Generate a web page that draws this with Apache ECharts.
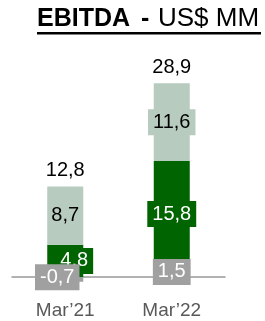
<!DOCTYPE html>
<html><head><meta charset="utf-8">
<script src="https://cdn.jsdelivr.net/npm/echarts@6/dist/echarts.min.js"></script>
<style>html,body{margin:0;padding:0;background:#fff}#c{width:265px;height:321px}</style>
</head><body><div id="c"></div>
<script>
var categories = ['Mar\u201921', 'Mar\u201922'];
var otherValues = [-0.7, 1.5];
var coreValues = [4.8, 15.8];
var addValues = [8.7, 11.6];
var totals = [12.8, 28.9];

var fmt = function (v) { return v.toFixed(1).replace('.', ','); };
var FONT = 'Liberation Sans, Arial, sans-serif';
var cGray = '#a0a0a0', cDark = '#006400', cLight = '#b7cbbf';

function lab(colors, textColor, offsets) {
  return function (i) {
    return {
      show: true, position: 'inside', color: textColor, fontSize: 20, fontFamily: FONT,
      backgroundColor: colors[i], padding: [3, 5], offset: offsets ? offsets[i] : [0, 0],
      formatter: function (p) { return fmt(p.value); }
    };
  };
}
function mk(values, labelFn) {
  return values.map(function (v, i) { return { value: v, label: labelFn(i) }; });
}

var chart = echarts.init(document.getElementById('c'));
chart.setOption({
  animation: false,
  graphic: [
    { type: 'text', left: 37, top: 7, style: { text: 'EBITDA', font: 'bold 25px ' + FONT, fill: '#000' } },
    { type: 'text', left: 141, top: 7, style: { text: '-', font: 'bold 25px ' + FONT, fill: '#000' } },
    { type: 'text', left: 158, top: 6, style: { text: 'US$ MM', font: '26px ' + FONT, fill: '#000' } },
    { type: 'rect', shape: { x: 37, y: 32, width: 224, height: 2.5 }, style: { fill: '#000' } }
  ],
  grid: { left: 12, right: 40, top: 76, bottom: 30.6, containLabel: false, outerBoundsMode: 'none' },
  xAxis: {
    type: 'category', data: categories,
    axisLine: { lineStyle: { color: '#999', width: 1.5 } },
    axisTick: { show: false },
    axisLabel: { color: '#595959', fontSize: 19, fontFamily: FONT, margin: 11 }
  },
  yAxis: { type: 'value', min: -2, max: 30, show: false, splitLine: { show: false } },
  series: [
    { type: 'bar', stack: 's', barWidth: 36, z: 4, itemStyle: { color: cGray },
      data: mk(otherValues, lab([cGray, cGray], '#fff', [[-8, -2], [0, 0]])) },
    { type: 'bar', stack: 's', barWidth: 36, itemStyle: { color: cDark },
      data: mk(coreValues, lab([cDark, cDark], '#fff', [[9, 0], [0, 0]])) },
    { type: 'bar', stack: 's', barWidth: 36, itemStyle: { color: cLight },
      data: mk(addValues, lab(['transparent', cLight], '#000', null)) },
    { type: 'bar', stack: 's', barWidth: 36, itemStyle: { color: 'transparent' },
      data: totals.map(function () { return 0; }),
      label: { show: true, position: 'top', distance: 6, color: '#000', fontSize: 20, fontFamily: FONT,
        formatter: function (p) { return fmt(totals[p.dataIndex]); } } }
  ]
});
</script></body></html>
